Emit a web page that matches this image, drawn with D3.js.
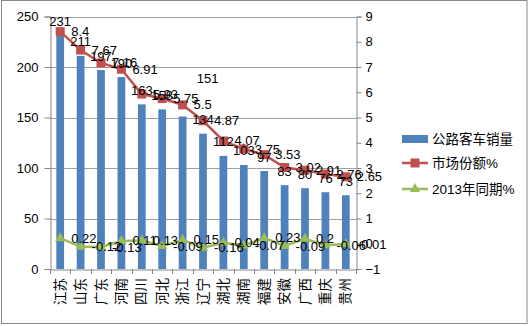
<!DOCTYPE html>
<html><head><meta charset="utf-8">
<script src="https://cdn.jsdelivr.net/npm/d3@7"></script>
<style>
html,body{margin:0;padding:0;background:#fff;}
text{font-family:"Liberation Sans","Noto Sans CJK SC",sans-serif;fill:#000;}
</style></head>
<body><svg id="c" width="530" height="326"></svg>
<script>
const categories = ['江苏','山东','广东','河南','四川','河北','浙江','辽宁','湖北','湖南','福建','安徽','广西','重庆','贵州'];
const sales = [231,211,197,190,163,158,151,134,112,103,97,83,80,76,73];
const share = [8.4,7.67,7.16,6.91,5.93,5.75,5.5,4.87,4.07,3.75,3.53,3.02,2.91,2.76,2.65];
const share2013 = [0.22,-0.12,-0.13,0.11,0.13,-0.09,0.15,-0.16,0.04,-0.07,0.23,-0.09,0.2,-0.06,-0.01];
const leftTicks = [0,50,100,150,200,250];
const rightTicks = [-1,0,1,2,3,4,5,6,7,8,9];
const seriesNames = ['公路客车销量','市场份额%','2013年同期%'];

const svg = d3.select('#c');
const plot = {l:50, r:356, t:16.5, b:269};
const blue = '#4F81BD', red = '#C0504D', green = '#9BBB59', grid = '#868686';

svg.append('rect').attr('x',1.5).attr('y',0.5).attr('width',525.5).attr('height',323)
  .attr('fill','#fff').attr('stroke','#898989').attr('stroke-width',1);

const x = d3.scaleBand().domain(categories).range([plot.l, plot.r]).paddingInner(0.62).paddingOuter(0.31);
const yL = d3.scaleLinear().domain([0,250]).range([plot.b, plot.t]);
const yR = d3.scaleLinear().domain([-1,9]).range([plot.b, plot.t]);
const cx = c => x(c) + x.bandwidth()/2;

// gridlines
svg.append('g').selectAll('line').data(leftTicks.filter(d=>d>0)).join('line')
  .attr('x1',plot.l).attr('x2',plot.r).attr('y1',d=>Math.round(yL(d))+0.5).attr('y2',d=>Math.round(yL(d))+0.5)
  .attr('stroke',grid).attr('stroke-width',0.8);

// axes
const axL = svg.append('g').attr('transform',`translate(${plot.l+0.5},0)`)
  .call(d3.axisLeft(yL).tickValues(leftTicks).tickSize(6).tickPadding(6));
const axR = svg.append('g').attr('transform',`translate(${plot.r+0.5},0)`)
  .call(d3.axisRight(yR).tickValues(rightTicks).tickSize(5).tickPadding(4));
const axB = svg.append('g').attr('transform',`translate(0,${plot.b+0.5})`)
  .call(d3.axisBottom(x).tickSize(0).tickFormat(''));
[axL,axR,axB].forEach(a=>{
  a.select('.domain').attr('stroke',grid);
  a.selectAll('.tick line').attr('stroke',grid);
  a.selectAll('.tick text').attr('font-size',13).attr('font-family','"Liberation Sans",sans-serif').attr('fill','#000');
});
// category separators on x axis
svg.append('g').selectAll('line').data(d3.range(categories.length+1)).join('line')
  .attr('x1',i=>Math.round(plot.l + i*(plot.r-plot.l)/categories.length)+0.5)
  .attr('x2',i=>Math.round(plot.l + i*(plot.r-plot.l)/categories.length)+0.5)
  .attr('y1',plot.b).attr('y2',plot.b+5).attr('stroke',grid);

// category labels (rotated)
svg.append('g').selectAll('text').data(categories).join('text')
  .attr('transform',d=>`translate(${cx(d)},${plot.b+9}) rotate(-90)`)
  .attr('text-anchor','end').attr('dominant-baseline','central')
  .attr('font-size',13.5).attr('font-family','"Noto Sans CJK SC",sans-serif').text(d=>d);

// bars
svg.append('g').selectAll('rect').data(sales).join('rect')
  .attr('x',(d,i)=>x(categories[i])).attr('width',x.bandwidth())
  .attr('y',d=>yL(d)).attr('height',d=>plot.b-yL(d)).attr('fill',blue);

// lines
const line1 = d3.line().x((d,i)=>cx(categories[i])).y(d=>yR(d));
svg.append('path').datum(share).attr('d',line1).attr('fill','none').attr('stroke',red).attr('stroke-width',2.5);
svg.append('path').datum(share2013).attr('d',line1).attr('fill','none').attr('stroke',green).attr('stroke-width',2.5);
svg.append('g').selectAll('rect').data(share).join('rect')
  .attr('x',(d,i)=>cx(categories[i])-4.5).attr('y',d=>yR(d)-4.5).attr('width',9).attr('height',9).attr('fill',red);
const tri = d3.symbol().type(d3.symbolTriangle).size(45);
svg.append('g').selectAll('path').data(share2013).join('path')
  .attr('transform',(d,i)=>`translate(${cx(categories[i])},${yR(d)})`).attr('d',tri).attr('fill',green);

// bar labels
svg.append('g').selectAll('text').data(sales).join('text')
  .attr('x',(d,i)=>cx(categories[i]) + (i===6?25:0))
  .attr('y',(d,i)=>yL(d)-14 + (i===6?-24:0))
  .attr('text-anchor','middle').attr('dominant-baseline','central').attr('font-size',13).text(d=>d);
// line labels
[share, share2013].forEach(s=>{
  svg.append('g').selectAll('text').data(s).join('text')
    .attr('x',(d,i)=>cx(categories[i])+11).attr('y',d=>yR(d))
    .attr('dominant-baseline','central').attr('font-size',13).text(d=>d);
});

// legend
const lg = svg.append('g');
const lx = 402, ly = [139, 163, 189];
lg.append('rect').attr('x',lx).attr('y',ly[0]-4).attr('width',26).attr('height',8).attr('fill',blue);
lg.append('line').attr('x1',lx).attr('x2',lx+26).attr('y1',ly[1]).attr('y2',ly[1]).attr('stroke',red).attr('stroke-width',2.5);
lg.append('rect').attr('x',lx+13-4.5).attr('y',ly[1]-4.5).attr('width',9).attr('height',9).attr('fill',red);
lg.append('line').attr('x1',lx).attr('x2',lx+26).attr('y1',ly[2]).attr('y2',ly[2]).attr('stroke',green).attr('stroke-width',2.5);
lg.append('path').attr('transform',`translate(${lx+13},${ly[2]})`).attr('d',tri).attr('fill',green);
lg.selectAll('text.l').data(seriesNames).join('text').attr('class','l')
  .attr('x',lx+30).attr('y',(d,i)=>ly[i]).attr('dominant-baseline','central')
  .attr('font-size',13.5).attr('font-family','"Noto Sans CJK SC",sans-serif').text(d=>d);
</script></body></html>
